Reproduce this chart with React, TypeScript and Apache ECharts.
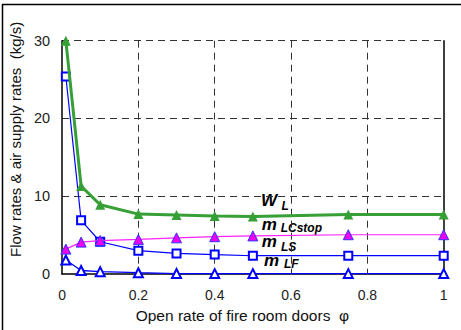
import React, { useEffect, useRef } from "react";
import * as echarts from "echarts";

const openRates = [0.01, 0.05, 0.1, 0.2, 0.3, 0.4, 0.5, 0.75, 1.0];
const wL = [30, 11.3, 8.9, 7.7, 7.6, 7.45, 7.4, 7.65, 7.65];
const mLCstop = [3.2, 4.1, 4.3, 4.45, 4.65, 4.8, 4.9, 5.05, 5.05];
const mLS = [25.4, 6.9, 4.15, 3.0, 2.65, 2.5, 2.35, 2.35, 2.35];
const mLF = [1.8, 0.45, 0.3, 0.17, 0.06, 0.05, 0.05, 0.05, 0.05];

const xTicks = [0, 0.2, 0.4, 0.6, 0.8, 1];
const yTicks = [0, 10, 20, 30];

const FONT = "Liberation Sans, Arial, sans-serif";

function pairs(vals: number[]) {
  return openRates.map((x, i) => [x, vals[i]]);
}

function label(main: string, sub: string, x: number, y: number, subX: number, subY: number) {
  return [
    {
      type: "text",
      x,
      y,
      style: {
        text: main,
        fontFamily: FONT,
        fontSize: 17,
        fontWeight: "bold",
        fontStyle: "italic",
        fill: "#000",
        textAlign: "left",
        textVerticalAlign: "middle",
      },
    },
    {
      type: "text",
      x: subX,
      y: subY,
      style: {
        text: sub,
        fontFamily: FONT,
        fontSize: 12,
        fontWeight: "bold",
        fontStyle: "italic",
        fill: "#000",
        textAlign: "left",
        textVerticalAlign: "middle",
      },
    },
  ];
}

export default function App() {
  const ref = useRef<HTMLDivElement>(null);

  useEffect(() => {
    if (!ref.current) return;
    const chart = echarts.init(ref.current, null, { renderer: "svg" });
    const gridLine = { show: true, lineStyle: { color: "#333", type: [7, 5], width: 1 } };
    chart.setOption({
      animation: false,
      backgroundColor: "#fff",
      textStyle: { fontFamily: FONT },
      grid: { left: 57.5, top: 40.7, right: 17.3, bottom: 56, show: false },
      xAxis: {
        type: "value",
        min: xTicks[0],
        max: xTicks[xTicks.length - 1],
        interval: 0.2,
        name: "Open rate of fire room doors  φ",
        nameLocation: "middle",
        nameGap: 33,
        nameTextStyle: { fontSize: 15.5, color: "#111", padding: [0, 21, 0, 0], fontFamily: FONT },
        axisLine: { show: true, lineStyle: { color: "#000", width: 1.5 } },
        axisTick: { show: false },
        axisLabel: { fontSize: 14, color: "#222", margin: 14, fontFamily: FONT },
        splitLine: { ...gridLine, showMinLine: false, showMaxLine: false },
      },
      yAxis: [
        {
          type: "value",
          min: yTicks[0],
          max: yTicks[yTicks.length - 1],
          interval: 10,
          name: "Flow rates & air supply rates  (kg/s)",
          nameLocation: "middle",
          nameGap: 33,
          nameTextStyle: { fontSize: 15, color: "#111", padding: [0, 0, 0, 36], fontFamily: FONT },
          axisLine: { show: true, lineStyle: { color: "#000", width: 1.5 } },
          axisTick: { show: false },
          axisLabel: { fontSize: 14.5, color: "#222", margin: 12, fontFamily: FONT },
          splitLine: { ...gridLine, showMinLine: false },
        },
        {
          type: "value",
          position: "right",
          min: yTicks[0],
          max: yTicks[yTicks.length - 1],
          interval: 10,
          axisLine: { show: true, lineStyle: { color: "#000", width: 1.5 } },
          axisTick: { show: false },
          axisLabel: { show: false },
          splitLine: { show: false },
        },
      ],
      series: [
        {
          name: "m LF",
          type: "line",
          data: pairs(mLF),
          symbol: "emptyTriangle",
          symbolSize: 9,
          lineStyle: { color: "#0000ff", width: 1.3 },
          itemStyle: { color: "#0000ff", borderWidth: 1.3 },
          z: 3,
        },
        {
          name: "m LS",
          type: "line",
          data: pairs(mLS),
          symbol: "emptyRect",
          symbolSize: 8,
          lineStyle: { color: "#0000ff", width: 1.2 },
          itemStyle: { color: "#0000ff", borderWidth: 1.2 },
          z: 3,
        },
        {
          name: "m LCstop",
          type: "line",
          data: pairs(mLCstop),
          symbol: "triangle",
          symbolSize: 10,
          lineStyle: { color: "#ff22ff", width: 1.2 },
          itemStyle: { color: "#ee00ee", borderColor: "#3333ff", borderWidth: 1 },
          z: 4,
        },
        {
          name: "W L",
          type: "line",
          data: pairs(wL),
          symbol: "triangle",
          symbolSize: 10,
          lineStyle: { color: "#36a036", width: 3 },
          itemStyle: { color: "#36a036" },
          z: 5,
        },
      ],
      graphic: [
        {
          type: "line",
          shape: { x1: 2, y1: 4.5, x2: 461, y2: 4.5 },
          style: { stroke: "#000", lineWidth: 1.5 },
        },
        {
          type: "line",
          shape: { x1: 2.5, y1: 4, x2: 2.5, y2: 330 },
          style: { stroke: "#000", lineWidth: 1.5 },
        },
        ...label("W", "L", 261, 200.8, 281.5, 206.2),
        ...label("m", "LCstop", 261.7, 224.1, 280.7, 227.5),
        ...label("m", "LS", 261.7, 241.4, 281, 246.7),
        ...label("m", "LF", 264, 260.8, 284, 264),
      ],
    });
    return () => chart.dispose();
  }, []);

  return (
    <div
      ref={ref}
      style={{ position: "fixed", left: 0, top: 0, width: 461, height: 330 }}
    />
  );
}
